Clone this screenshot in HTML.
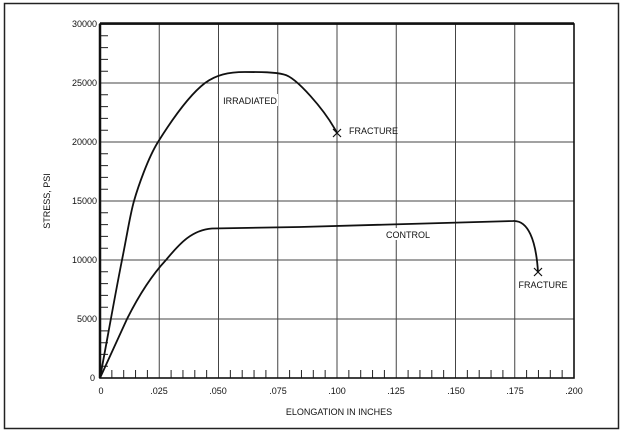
<!DOCTYPE html>
<html><head><style>html,body{margin:0;padding:0;background:#fff}svg{display:block}text{font-family:"Liberation Sans",sans-serif;font-size:9px;fill:#111}</style></head><body>
<svg width="624" height="433" viewBox="0 0 624 433" xmlns="http://www.w3.org/2000/svg">
<rect x="4.5" y="3.5" width="614" height="425" fill="#fff" stroke="#222" stroke-width="1.5"/>
<g stroke="#444" stroke-width="1">
<line x1="159.25" y1="24" x2="159.25" y2="378"/><line x1="218.5" y1="24" x2="218.5" y2="378"/><line x1="277.75" y1="24" x2="277.75" y2="378"/><line x1="337" y1="24" x2="337" y2="378"/><line x1="396.25" y1="24" x2="396.25" y2="378"/><line x1="455.5" y1="24" x2="455.5" y2="378"/><line x1="514.75" y1="24" x2="514.75" y2="378"/>
<line x1="100" y1="319" x2="574" y2="319"/><line x1="100" y1="260" x2="574" y2="260"/><line x1="100" y1="201" x2="574" y2="201"/><line x1="100" y1="142" x2="574" y2="142"/><line x1="100" y1="83" x2="574" y2="83"/>
</g>
<g stroke="#222" stroke-width="1">
<path d="M100 366.2h8M100 354.4h8M100 342.7h8M100 330.9h8M100 307.2h8M100 295.4h8M100 283.6h8M100 271.8h8M100 248.2h8M100 236.4h8M100 224.6h8M100 212.8h8M100 189.2h8M100 177.4h8M100 165.6h8M100 153.8h8M100 130.2h8M100 118.4h8M100 106.6h8M100 94.8h8M100 71.2h8M100 59.4h8M100 47.6h8M100 35.8h8"/>
<path d="M111.85 378v-8M123.7 378v-8M135.55 378v-8M147.4 378v-8M171.1 378v-8M182.95 378v-8M194.8 378v-8M206.65 378v-8M230.35 378v-8M242.2 378v-8M254.05 378v-8M265.9 378v-8M289.6 378v-8M301.45 378v-8M313.3 378v-8M325.15 378v-8M348.85 378v-8M360.7 378v-8M372.55 378v-8M384.4 378v-8M408.1 378v-8M419.95 378v-8M431.8 378v-8M443.65 378v-8M467.35 378v-8M479.2 378v-8M491.05 378v-8M502.9 378v-8M526.6 378v-8M538.45 378v-8M550.3 378v-8M562.15 378v-8"/>
</g>
<rect x="100" y="24" width="474" height="354" fill="none" stroke="#111" stroke-width="1.6"/>
<line x1="100" y1="23.5" x2="574" y2="23.5" stroke="#111" stroke-width="2.5"/>
<line x1="100" y1="24" x2="100" y2="378" stroke="#111" stroke-width="2.5"/>
<g fill="none" stroke="#111" stroke-width="1.8">
<path d="M100 378 C108 335 116 290 122 260 S130 215 134 201 S148 158 158 142 C168 126 188 96 205 83 C216 75 228 72 245 72 C262 72 274 72 284 74.5 C296 77 325 110 337 133"/>
<path d="M100 378 L127 319 C140 293 152 275 166 260 C180 243 192 230 212 228.5 L300 227 L513 221 C528 220 536 240 538 272"/>
<path d="M333 129l8 8M341 129l-8 8M534 268l8 8M542 268l-8 8" stroke-width="1.2"/>
</g>
<g font-size="9">
<text x="97" y="27" text-anchor="end">30000</text>
<text x="97" y="86" text-anchor="end">25000</text>
<text x="97" y="145" text-anchor="end">20000</text>
<text x="97" y="204" text-anchor="end">15000</text>
<text x="97" y="263" text-anchor="end">10000</text>
<text x="97" y="322" text-anchor="end">5000</text>
<text x="95" y="381" text-anchor="end">0</text>
<text x="101" y="394" text-anchor="middle">0</text>
<text x="159" y="394" text-anchor="middle">.025</text>
<text x="218" y="394" text-anchor="middle">.050</text>
<text x="278" y="394" text-anchor="middle">.075</text>
<text x="337" y="394" text-anchor="middle">.100</text>
<text x="396" y="394" text-anchor="middle">.125</text>
<text x="456" y="394" text-anchor="middle">.150</text>
<text x="515" y="394" text-anchor="middle">.175</text>
<text x="574" y="394" text-anchor="middle">.200</text>
<text x="339" y="415" text-anchor="middle">ELONGATION IN INCHES</text>
<text transform="translate(50,201) rotate(-90)" text-anchor="middle">STRESS, PSI</text>
<rect x="222" y="94" width="56" height="12" fill="#fff"/>
<text x="250" y="104" text-anchor="middle">IRRADIATED</text>
<text x="349" y="134">FRACTURE</text>
<rect x="385" y="228" width="46" height="12" fill="#fff"/>
<text x="408" y="238" text-anchor="middle">CONTROL</text>
<text x="543" y="288" text-anchor="middle">FRACTURE</text>
</g>
</svg>
</body></html>
